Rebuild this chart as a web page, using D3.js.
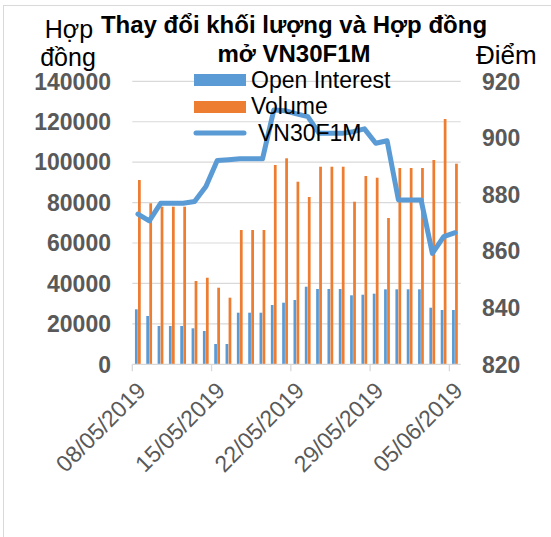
<!DOCTYPE html>
<html>
<head>
<meta charset="utf-8">
<script src="https://cdn.jsdelivr.net/npm/d3@7"></script>
<style>
html,body{margin:0;padding:0;background:#fff;}
svg{display:block;font-family:"Liberation Sans",Arial,sans-serif;}
</style>
</head>
<body>
<svg id="chart" width="551" height="537"></svg>
<script>
const dates = ["08/05/2019","09/05/2019","10/05/2019","11/05/2019","12/05/2019","13/05/2019","14/05/2019",
  "15/05/2019","16/05/2019","17/05/2019","18/05/2019","19/05/2019","20/05/2019","21/05/2019",
  "22/05/2019","23/05/2019","24/05/2019","25/05/2019","26/05/2019","27/05/2019","28/05/2019",
  "29/05/2019","30/05/2019","31/05/2019","01/06/2019","02/06/2019","03/06/2019","04/06/2019","05/06/2019"];
const openInterest = [27200,23900,18950,18950,18950,17800,16470,10040,10040,25530,25530,25530,29340,30470,
  31810,38390,37250,37250,37250,34130,34430,34930,37100,37100,37100,37100,28000,26860,26860];
const volume = [91170,79650,77970,77970,77970,41210,42840,37890,32950,66440,66440,66440,98600,101910,
  90330,82760,97750,97750,97750,80440,93150,92310,72370,97110,97110,97110,101070,121350,99240];
const vn30 = [873.1,870.7,876.9,876.9,876.9,877.5,882.8,892.0,892.3,892.6,892.6,892.6,909.9,909.6,
  908.5,907.5,901.6,901.6,901.6,902.2,903.2,898.1,899.0,878.1,878.1,878.1,859.2,865.1,866.5];
const leftTicks = [0,20000,40000,60000,80000,100000,120000,140000];
const rightTicks = [820,840,860,880,900,920];
const dateTickLabels = ["08/05/2019","15/05/2019","22/05/2019","29/05/2019","05/06/2019"];
const seriesNames = ["Open Interest","Volume","VN30F1M"];
const titleLines = ["Thay đổi khối lượng và Hợp đồng","mở VN30F1M"];

const C_BLUE = "#5B9BD5", C_ORANGE = "#ED7D31", C_GRID = "#D9D9D9", C_TICK = "#595959";
const svg = d3.select("#chart");
const L = 132.3, R = 460.7, T = 81.3, B = 364.3;

// outer border
svg.append("rect").attr("x",3.5).attr("y",5.5).attr("width",560).attr("height",560)
  .attr("fill","none").attr("stroke",C_GRID).attr("stroke-width",1);

const x = d3.scaleBand().domain(dates).range([L,R]).padding(0);
const xs = d3.scaleBand().domain(["oi","vol"]).range([x.step()*0.235, x.step()*0.745]).paddingInner(0.1);
const yL = d3.scaleLinear().domain([0,140000]).range([B,T]);
const yR = d3.scaleLinear().domain([820,920]).range([B,T]);

// gridlines
svg.append("g").selectAll("line").data(leftTicks.slice(1)).join("line")
  .attr("x1",L).attr("x2",R).attr("y1",d=>yL(d)).attr("y2",d=>yL(d))
  .attr("stroke",C_GRID).attr("stroke-width",1.2);

// bars
const g = svg.append("g");
g.selectAll("rect.oi").data(dates).join("rect").attr("class","oi")
  .attr("x",d=>x(d)+xs("oi")).attr("width",xs.bandwidth())
  .attr("y",(d,i)=>yL(openInterest[i])).attr("height",(d,i)=>B-yL(openInterest[i]))
  .attr("fill",C_BLUE);
g.selectAll("rect.vol").data(dates).join("rect").attr("class","vol")
  .attr("x",d=>x(d)+xs("vol")).attr("width",xs.bandwidth())
  .attr("y",(d,i)=>yL(volume[i])).attr("height",(d,i)=>B-yL(volume[i]))
  .attr("fill",C_ORANGE);

// x axis line & ticks
svg.append("line").attr("x1",L).attr("x2",R).attr("y1",B).attr("y2",B)
  .attr("stroke",C_GRID).attr("stroke-width",1.3);
svg.append("g").selectAll("line").data(dateTickLabels).join("line")
  .attr("x1",d=>x(d)).attr("x2",d=>x(d)).attr("y1",B).attr("y2",B+7)
  .attr("stroke",C_GRID).attr("stroke-width",1.3);
svg.append("g").selectAll("text").data(dateTickLabels).join("text")
  .attr("transform",d=>`translate(${x(d)+3},${B+16}) rotate(-45)`)
  .attr("text-anchor","end").attr("dy","0.72em")
  .attr("font-size",23).attr("fill",C_TICK).text(d=>d);

// line
const line = d3.line().x((d,i)=>x(dates[i])+x.bandwidth()/2).y(d=>yR(d));
svg.append("path").datum(vn30).attr("d",line).attr("fill","none")
  .attr("stroke",C_BLUE).attr("stroke-width",5).attr("stroke-linejoin","round").attr("stroke-linecap","round");

// left axis labels
svg.append("g").selectAll("text").data(leftTicks).join("text")
  .attr("x",111).attr("y",d=>yL(d)).attr("dy","0.36em").attr("text-anchor","end")
  .attr("font-size",23).attr("font-weight","bold").attr("fill",C_TICK).text(d=>d);
// right axis labels
svg.append("g").selectAll("text").data(rightTicks).join("text")
  .attr("x",482).attr("y",d=>yR(d)).attr("dy","0.36em").attr("text-anchor","start")
  .attr("font-size",23).attr("font-weight","bold").attr("fill",C_TICK).text(d=>d);

// axis titles
svg.append("text").attr("x",69).attr("y",38).attr("text-anchor","middle").attr("font-size",25).attr("fill","#000").text("Hợp");
svg.append("text").attr("x",68).attr("y",66).attr("text-anchor","middle").attr("font-size",25).attr("fill","#000").text("đồng");
svg.append("text").attr("x",476).attr("y",64).attr("text-anchor","start").attr("font-size",26).attr("fill","#000").text("Điểm");

// title
svg.append("g").selectAll("text").data(titleLines).join("text")
  .attr("x",294).attr("y",(d,i)=>33+i*29).attr("text-anchor","middle")
  .attr("font-size",24).attr("font-weight","bold").attr("fill","#000").text(d=>d);

// legend
const lg = svg.append("g");
lg.append("rect").attr("x",194).attr("y",74).attr("width",52).attr("height",12).attr("fill",C_BLUE);
lg.append("text").attr("x",251).attr("y",88).attr("font-size",23).attr("fill","#000").text(seriesNames[0]);
lg.append("rect").attr("x",194).attr("y",101).attr("width",52).attr("height",12).attr("fill",C_ORANGE);
lg.append("text").attr("x",251).attr("y",114).attr("font-size",23).attr("fill","#000").text(seriesNames[1]);
lg.append("line").attr("x1",196).attr("x2",244).attr("y1",133).attr("y2",133)
  .attr("stroke",C_BLUE).attr("stroke-width",5).attr("stroke-linecap","round");
lg.append("text").attr("x",258).attr("y",141).attr("font-size",23).attr("fill","#000").text(seriesNames[2]);
</script>
</body>
</html>
